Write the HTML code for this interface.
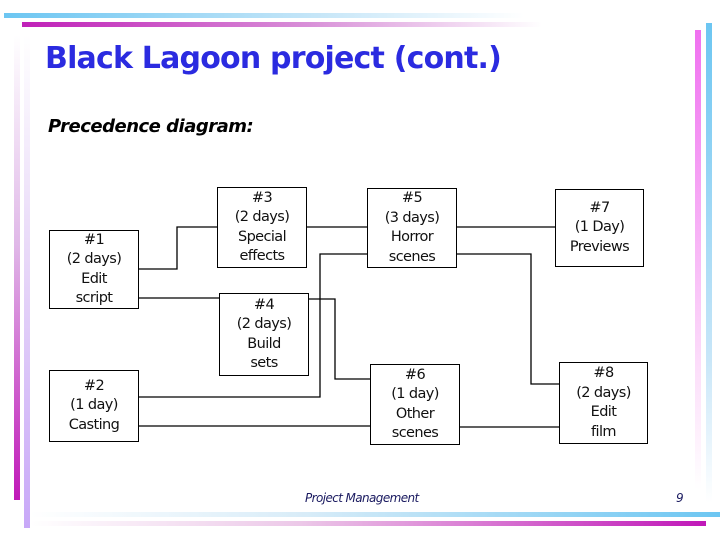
<!DOCTYPE html>
<html><head><meta charset="utf-8"><style>
body{margin:0;width:720px;height:540px;background:#fff;position:relative;overflow:hidden;font-family:"DejaVu Sans","Liberation Sans",sans-serif}
.a{position:absolute}
.box{position:absolute;border:1px solid #000;box-sizing:border-box;display:flex;align-items:center;justify-content:center;text-align:center;font-size:14.5px;line-height:19.5px;color:#111;font-family:"DejaVu Sans",sans-serif;letter-spacing:-0.6px}
</style></head><body>
<div class="a" style="left:4px;top:13px;width:520px;height:5px;background:linear-gradient(90deg,#6cc6f2,#c6e6f8 60%,#fff)"></div>
<div class="a" style="left:22px;top:22px;width:520px;height:5px;background:linear-gradient(90deg,#c020b8,#d890d8 55%,#fff)"></div>
<div class="a" style="left:706px;top:23px;width:6px;height:480px;background:linear-gradient(180deg,#6cc6f2,#c8e6f8 70%,#fff)"></div>
<div class="a" style="left:695px;top:30px;width:6px;height:460px;background:linear-gradient(180deg,#f070f0,#fce0fa 75%,#fff)"></div>
<div class="a" style="left:14px;top:35px;width:6px;height:465px;background:linear-gradient(180deg,#fff,#e0b8e8 45%,#c018b8)"></div>
<div class="a" style="left:24px;top:35px;width:6px;height:493px;background:linear-gradient(180deg,#fff,#e8d8f8 45%,#c8a8f8)"></div>
<div class="a" style="left:30px;top:512px;width:690px;height:5px;background:linear-gradient(90deg,#fff,#d8ecf8 40%,#6cc6f2)"></div>
<div class="a" style="left:30px;top:521px;width:676px;height:5px;background:linear-gradient(90deg,#fff,#ecc8e8 40%,#c018b8)"></div>
<div class="a" style="left:45px;top:41px;font-size:30px;font-weight:bold;color:#2b2be0;font-family:'DejaVu Sans',sans-serif;letter-spacing:-0.8px;white-space:nowrap">Black Lagoon project (cont.)</div>
<div class="a" style="left:48px;top:116px;font-size:18px;font-weight:bold;font-style:italic;color:#000;letter-spacing:-0.5px;white-space:nowrap">Precedence diagram:</div>
<svg class="a" style="left:0;top:0" width="720" height="540" fill="none" stroke="#000" stroke-width="1.3">
<polyline points="138,269 177,269 177,227 217,227"/>
<line x1="138" y1="298" x2="219" y2="298"/>
<line x1="306" y1="227" x2="367" y2="227"/>
<polyline points="138,397 320,397 320,254 367,254"/>
<polyline points="308,299 335,299 335,379 370,379"/>
<line x1="138" y1="426" x2="370" y2="426"/>
<line x1="457" y1="227" x2="555" y2="227"/>
<polyline points="457,254 531,254 531,384 559,384"/>
<line x1="459" y1="427" x2="559" y2="427"/>
</svg>
<div class="box" style="left:49px;top:230px;width:90px;height:79px">#1<br>(2 days)<br>Edit<br>script</div>
<div class="box" style="left:49px;top:370px;width:90px;height:72px">#2<br>(1 day)<br>Casting</div>
<div class="box" style="left:217px;top:187px;width:90px;height:81px">#3<br>(2 days)<br>Special<br>effects</div>
<div class="box" style="left:219px;top:293px;width:90px;height:83px">#4<br>(2 days)<br>Build<br>sets</div>
<div class="box" style="left:367px;top:188px;width:90px;height:80px">#5<br>(3 days)<br>Horror<br>scenes</div>
<div class="box" style="left:370px;top:364px;width:90px;height:81px">#6<br>(1 day)<br>Other<br>scenes</div>
<div class="box" style="left:555px;top:189px;width:89px;height:78px">#7<br>(1 Day)<br>Previews</div>
<div class="box" style="left:559px;top:362px;width:89px;height:82px">#8<br>(2 days)<br>Edit<br>film</div>
<div class="a" style="left:305px;top:491px;font-size:12px;font-style:italic;color:#1a1a60;letter-spacing:-0.6px;white-space:nowrap">Project Management</div>
<div class="a" style="left:676px;top:491px;font-size:12px;font-style:italic;color:#1a1a60">9</div>
</body></html>
